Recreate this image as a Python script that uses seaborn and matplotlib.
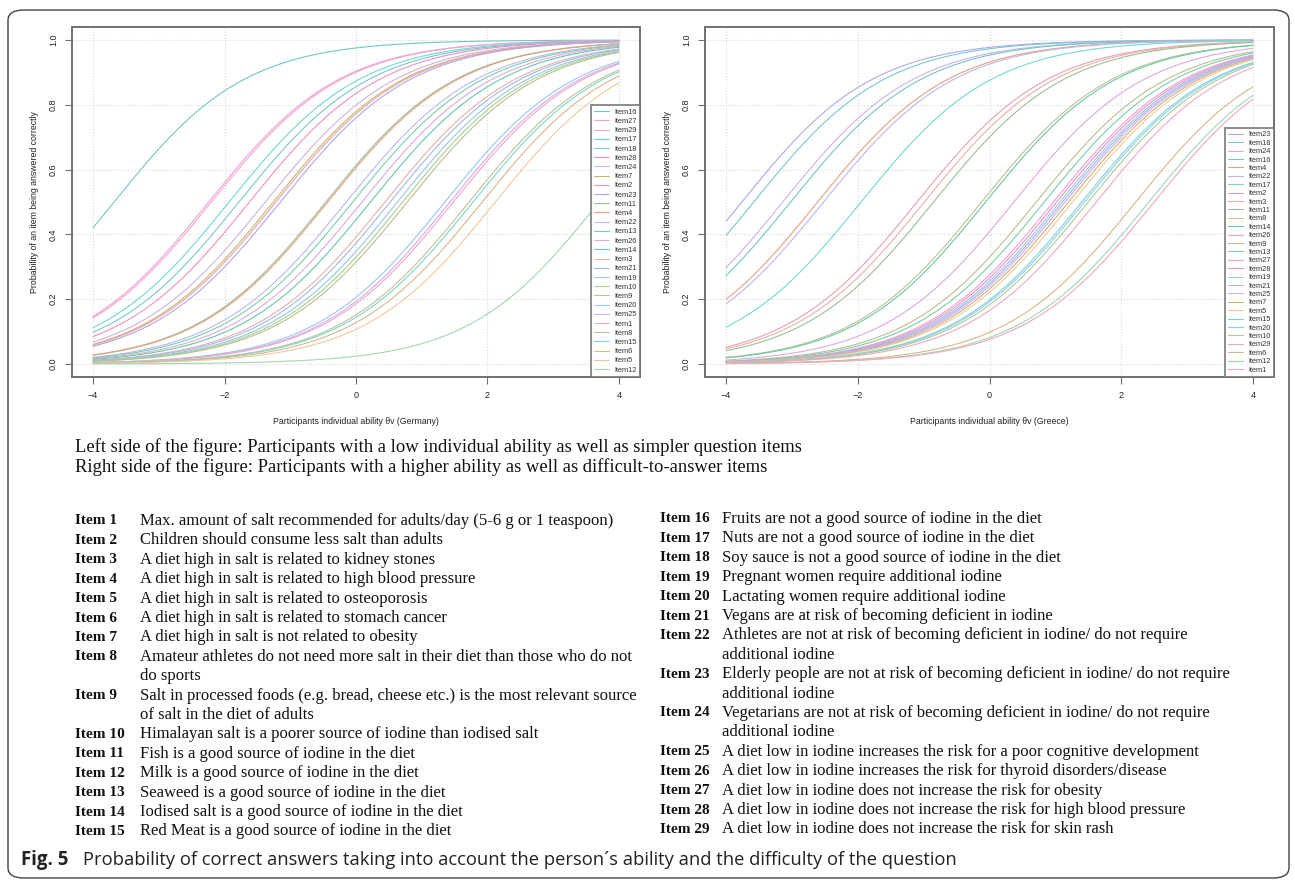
import numpy as np
import pandas as pd
import matplotlib
matplotlib.use("Agg")
import matplotlib.pyplot as plt
import seaborn as sns
from matplotlib.patches import FancyBboxPatch

# Item difficulties (Rasch), listed in the legend order of each panel
items_de = ["Item16", "Item27", "Item29", "Item17", "Item18", "Item28", "Item24", "Item7",
            "Item2", "Item23", "Item11", "Item4", "Item22", "Item13", "Item26", "Item14",
            "Item3", "Item21", "Item19", "Item10", "Item9", "Item20", "Item25", "Item1",
            "Item8", "Item15", "Item6", "Item5", "Item12"]
diff_de = [-3.68, -2.24, -2.20, -1.93, -1.78, -1.62, -1.38, -1.26, -1.22, -1.15, -0.46,
           -0.43, -0.15, -0.05, 0.09, 0.22, 0.44, 0.52, 0.63, 0.71, 0.78, 1.35, 1.43, 1.48,
           1.72, 1.78, 1.92, 2.12, 3.70]

items_gr = ["Item23", "Item18", "Item24", "Item16", "Item4", "Item22", "Item17", "Item2",
            "Item3", "Item11", "Item8", "Item14", "Item26", "Item9", "Item13", "Item27",
            "Item28", "Item19", "Item21", "Item25", "Item7", "Item5", "Item15", "Item20",
            "Item10", "Item29", "Item6", "Item12", "Item1"]
diff_gr = [-3.76, -3.58, -3.14, -3.02, -2.61, -2.52, -1.95, -1.10, -0.99, -0.85, -0.12,
           -0.06, 0.37, 0.71, 0.83, 0.97, 1.02, 1.07, 1.11, 1.15, 1.20, 1.26, 1.40, 1.44,
           1.50, 1.62, 2.22, 2.42, 2.50]

item_colors = {
    "Item1": "#f0a8c0", "Item2": "#e8a0b0", "Item3": "#e8b0a8", "Item4": "#e8a080",
    "Item5": "#f0c8a0", "Item6": "#d8b888", "Item7": "#c8b868", "Item8": "#c0c098",
    "Item9": "#b8c090", "Item10": "#a8d090", "Item11": "#98c098", "Item12": "#a0d8b0",
    "Item13": "#78d0a8", "Item14": "#68c8a8", "Item15": "#78d8d0", "Item16": "#70c8c0",
    "Item17": "#70d8d8", "Item18": "#78c8d0", "Item19": "#98c8e0", "Item20": "#98c8f0",
    "Item21": "#a0b8f0", "Item22": "#b8b8f0", "Item23": "#b0a8e8", "Item24": "#d0b0e8",
    "Item25": "#d8a8f0", "Item26": "#e0a8e0", "Item27": "#f0a0d8", "Item28": "#f090c0",
    "Item29": "#f0a8c8",
}

item_text = [
    "Max. amount of salt recommended for adults/day (5-6 g or 1 teaspoon)",
    "Children should consume less salt than adults",
    "A diet high in salt is related to kidney stones",
    "A diet high in salt is related to high blood pressure",
    "A diet high in salt is related to osteoporosis",
    "A diet high in salt is related to stomach cancer",
    "A diet high in salt is not related to obesity",
    "Amateur athletes do not need more salt in their diet than those who do not\ndo sports",
    "Salt in processed foods (e.g. bread, cheese etc.) is the most relevant source\nof salt in the diet of adults",
    "Himalayan salt is a poorer source of iodine than iodised salt",
    "Fish is a good source of iodine in the diet",
    "Milk is a good source of iodine in the diet",
    "Seaweed is a good source of iodine in the diet",
    "Iodised salt is a good source of iodine in the diet",
    "Red Meat is a good source of iodine in the diet",
    "Fruits are not a good source of iodine in the diet",
    "Nuts are not a good source of iodine in the diet",
    "Soy sauce is not a good source of iodine in the diet",
    "Pregnant women require additional iodine",
    "Lactating women require additional iodine",
    "Vegans are at risk of becoming deficient in iodine",
    "Athletes are not at risk of becoming deficient in iodine/ do not require\nadditional iodine",
    "Elderly people are not at risk of becoming deficient in iodine/ do not require\nadditional iodine",
    "Vegetarians are not at risk of becoming deficient in iodine/ do not require\nadditional iodine",
    "A diet low in iodine increases the risk for a poor cognitive development",
    "A diet low in iodine increases the risk for thyroid disorders/disease",
    "A diet low in iodine does not increase the risk for obesity",
    "A diet low in iodine does not increase the risk for high blood pressure",
    "A diet low in iodine does not increase the risk for skin rash",
]

theta = np.linspace(-4, 4, 200)

W, H = 1295, 881
sns.set_style("white")
plt.rcParams["font.family"] = ["Liberation Sans", "DejaVu Sans"]
fig = plt.figure(figsize=(W / 100, H / 100), dpi=100)


def px(x, y):
    return x / W, 1 - y / H


def icc_frame(items, diffs):
    rows = []
    for it, b in zip(items, diffs):
        p = 1 / (1 + np.exp(-(theta - b)))
        rows.append(pd.DataFrame({"theta": theta, "p": p, "item": it}))
    return pd.concat(rows, ignore_index=True)


def draw_panel(rect, items, diffs, xlabel, lab_sp):
    ax = fig.add_axes(rect)
    df = icc_frame(items, diffs)
    sns.lineplot(data=df, x="theta", y="p", hue="item", hue_order=items,
                 palette=item_colors, linewidth=0.8, legend=False, ax=ax)
    ax.set_xlim(-4.32, 4.32)
    ax.set_ylim(-0.04, 1.04)
    ax.set_xticks([-4, -2, 0, 2, 4])
    ax.set_xticklabels(["\u22124", "\u22122", "0", "2", "4"])
    ax.set_yticks([0, 0.2, 0.4, 0.6, 0.8, 1.0])
    ax.set_yticklabels(["0.0", "0.2", "0.4", "0.6", "0.8", "1.0"], rotation=90, va="center")
    ax.grid(True, linestyle=":", color="#d8d8d8", linewidth=0.8)
    for s in ax.spines.values():
        s.set_color("#707070")
        s.set_linewidth(1.4)
    ax.tick_params(axis="both", labelsize=6.5, length=5, width=0.8, color="#707070",
                   direction="out", bottom=True, left=True, pad=5, labelcolor="#222222")
    ax.set_xlabel(xlabel, fontsize=6.3, color="#222222", labelpad=12)
    ax.set_ylabel("Probability of an item being answered correctly", fontsize=6.3,
                  color="#222222", labelpad=7)
    leg = ax.legend(ax.get_lines(), items, loc="lower right", bbox_to_anchor=(1, 0),
                    borderaxespad=0, fontsize=5.3, frameon=True, fancybox=False,
                    handlelength=2.0, handletextpad=0.7, labelspacing=lab_sp, borderpad=0.45)
    leg.get_frame().set_edgecolor("#707070")
    leg.get_frame().set_linewidth(1.4)
    for t in leg.get_texts():
        t.set_color("#333333")
    return ax


draw_panel([72 / W, 1 - 377 / H, (640 - 72) / W, (377 - 27) / H], items_de, diff_de,
           "Participants individual ability \u03b8v (Germany)", 0.28)
draw_panel([705 / W, 1 - 377 / H, (1274 - 705) / W, (377 - 27) / H], items_gr, diff_gr,
           "Participants individual ability \u03b8v (Greece)", 0.17)

# outer rounded frame
frame = FancyBboxPatch(px(8, 878), (1289 - 8) / W, (878 - 10) / H,
                       boxstyle="round,pad=0,rounding_size=0.012", transform=fig.transFigure,
                       fill=False, edgecolor="#444444", linewidth=1.0)
fig.patches.append(frame)

serif = ["Liberation Serif", "DejaVu Serif"]
fig.text(*px(75, 447), "Left side of the figure: Participants with a low individual ability as well as simpler question items",
         family=serif, fontsize=13.4, va="center", color="#111111")
fig.text(*px(75, 467), "Right side of the figure: Participants with a higher ability as well as difficult-to-answer items",
         family=serif, fontsize=13.4, va="center", color="#111111")

# item key in two columns
step = 19.4
cols = [(0, 15, 75, 140, 521), (15, 29, 660, 722, 519)]
for start, stop, xl, xd, y0 in cols:
    line = 0
    for i in range(start, stop):
        y = y0 + line * step
        fig.text(*px(xl, y), "Item %d" % (i + 1), family=serif, fontsize=11.0,
                 weight="bold", va="center", color="#111111")
        for part in item_text[i].split("\n"):
            fig.text(*px(xd, y0 + line * step), part, family=serif, fontsize=12.0,
                     va="center", color="#111111")
            line += 1

# caption
cap_font = ["Open Sans", "DejaVu Sans"]
fig.text(*px(21, 860), "Fig. 5", family=cap_font, fontsize=13.4, weight="bold",
         va="center", color="#222222")
fig.text(*px(83, 860), "Probability of correct answers taking into account the person\u00b4s ability and the difficulty of the question",
         family=cap_font, fontsize=13.2, va="center", color="#222222")

fig.savefig("out.png", dpi=100)
